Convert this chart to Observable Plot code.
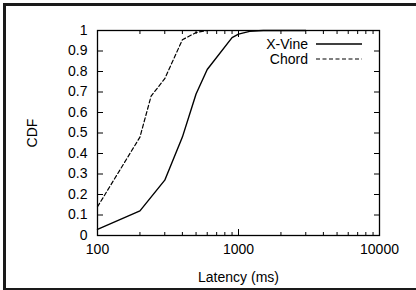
<!DOCTYPE html>
<html><head><meta charset="utf-8">
<script src="https://cdn.jsdelivr.net/npm/d3@7"></script>
<script src="https://cdn.jsdelivr.net/npm/@observablehq/plot@0.6"></script>
<style>
body{margin:0;background:#fff;}
#wrap{position:relative;width:416px;height:290px;overflow:hidden;background:#fff;}
#border{position:absolute;left:3px;top:3px;width:430px;height:282px;border-left:3px solid #1a1a1a;border-top:3px solid #1a1a1a;border-bottom:2px solid #1a1a1a;}
#chart{position:absolute;left:0;top:0;}
.leg{position:absolute;font:14px "Liberation Sans",Arial,sans-serif;color:#000;display:flex;align-items:center;white-space:nowrap;}
.leg span{display:inline-block;width:72px;text-align:right;margin-right:8px;}
</style>
</head><body>
<div id="wrap"><div id="border"></div><div id="chart"></div></div>
<script>
// Data
const seriesNames = ["X-Vine", "Chord"];
const xvineLatency = [100, 200, 300, 400, 500, 600, 900, 1000, 1200, 1500, 3000];
const xvineCdf     = [0.03, 0.12, 0.27, 0.48, 0.69, 0.81, 0.965, 0.982, 0.996, 1.0, 1.0];
const chordLatency = [100, 200, 240, 300, 400, 500, 600, 1000];
const chordCdf     = [0.14, 0.48, 0.68, 0.765, 0.955, 0.99, 1.0, 1.0];
const xMajorTicks = [100, 1000, 10000];
const xMinorTicks = [200, 300, 400, 500, 600, 700, 800, 900, 2000, 3000, 4000, 5000, 6000, 7000, 8000, 9000];
const yTicks = [0, 0.1, 0.2, 0.3, 0.4, 0.5, 0.6, 0.7, 0.8, 0.9, 1];

const xvine = xvineLatency.map((x, i) => ({latency: x, cdf: xvineCdf[i]}));
const chord = chordLatency.map((x, i) => ({latency: x, cdf: chordCdf[i]}));

const MAJ = 6, MIN = 3;
const font = '"Liberation Sans", Arial, sans-serif';

const chart = Plot.plot({
  width: 416, height: 290,
  marginLeft: 97, marginRight: 37, marginTop: 30, marginBottom: 55,
  style: {fontFamily: font, fontSize: "14px", color: "#000", background: "transparent", overflow: "visible"},
  x: {type: "log", domain: [100, 10000]},
  y: {domain: [0, 1]},
  marks: [
    // x tick labels and axis label
    Plot.axisX({ticks: xMajorTicks, tickSize: 0, tickPadding: 9, tickFormat: d => String(d),
      label: "Latency (ms)", labelAnchor: "center", labelOffset: 46, labelArrow: "none", fill: "#000"}),
    // inward major/minor ticks bottom
    Plot.axisX({ticks: xMajorTicks, anchor: "bottom", tickSize: MAJ, dy: -MAJ, fill: "none", label: null, stroke: "#000"}),
    Plot.axisX({ticks: xMinorTicks, anchor: "bottom", tickSize: MIN, dy: -MIN, fill: "none", label: null, stroke: "#000"}),
    // mirrored top
    Plot.axisX({ticks: xMajorTicks, anchor: "top", tickSize: MAJ, dy: MAJ, fill: "none", label: null, stroke: "#000"}),
    Plot.axisX({ticks: xMinorTicks, anchor: "top", tickSize: MIN, dy: MIN, fill: "none", label: null, stroke: "#000"}),
    // y labels
    Plot.axisY({ticks: yTicks, tickSize: 0, tickPadding: 10, tickFormat: d => String(d),
      label: "CDF", labelAnchor: "center", labelOffset: 70, labelArrow: "none", fill: "#000"}),
    Plot.axisY({ticks: yTicks, anchor: "left", tickSize: MAJ, dx: MAJ, fill: "none", label: null, stroke: "#000"}),
    Plot.axisY({ticks: yTicks, anchor: "right", tickSize: MAJ, dx: -MAJ, fill: "none", label: null, stroke: "#000"}),
    Plot.frame({stroke: "#000", strokeWidth: 1.3}),
    Plot.line(xvine, {x: "latency", y: "cdf", stroke: "#000", strokeWidth: 1.4}),
    Plot.line(chord, {x: "latency", y: "cdf", stroke: "#000", strokeWidth: 1.2, strokeDasharray: "4,2.5"})
  ]
});
document.getElementById("chart").appendChild(chart);

// Legend
const wrap = document.getElementById("wrap");
const legTops = [36, 51];
const dashes = [null, "4,2.5"];
seriesNames.forEach((name, i) => {
  const d = document.createElement("div");
  d.className = "leg";
  d.style.left = "236px";
  d.style.top = legTops[i] + "px";
  d.innerHTML = `<span>${name}</span><svg width="46" height="16"><line x1="0" x2="46" y1="8" y2="8" stroke="#000" stroke-width="${i ? 1.2 : 1.4}" ${dashes[i] ? `stroke-dasharray="${dashes[i]}"` : ""}/></svg>`;
  wrap.appendChild(d);
});
</script>
</body></html>
